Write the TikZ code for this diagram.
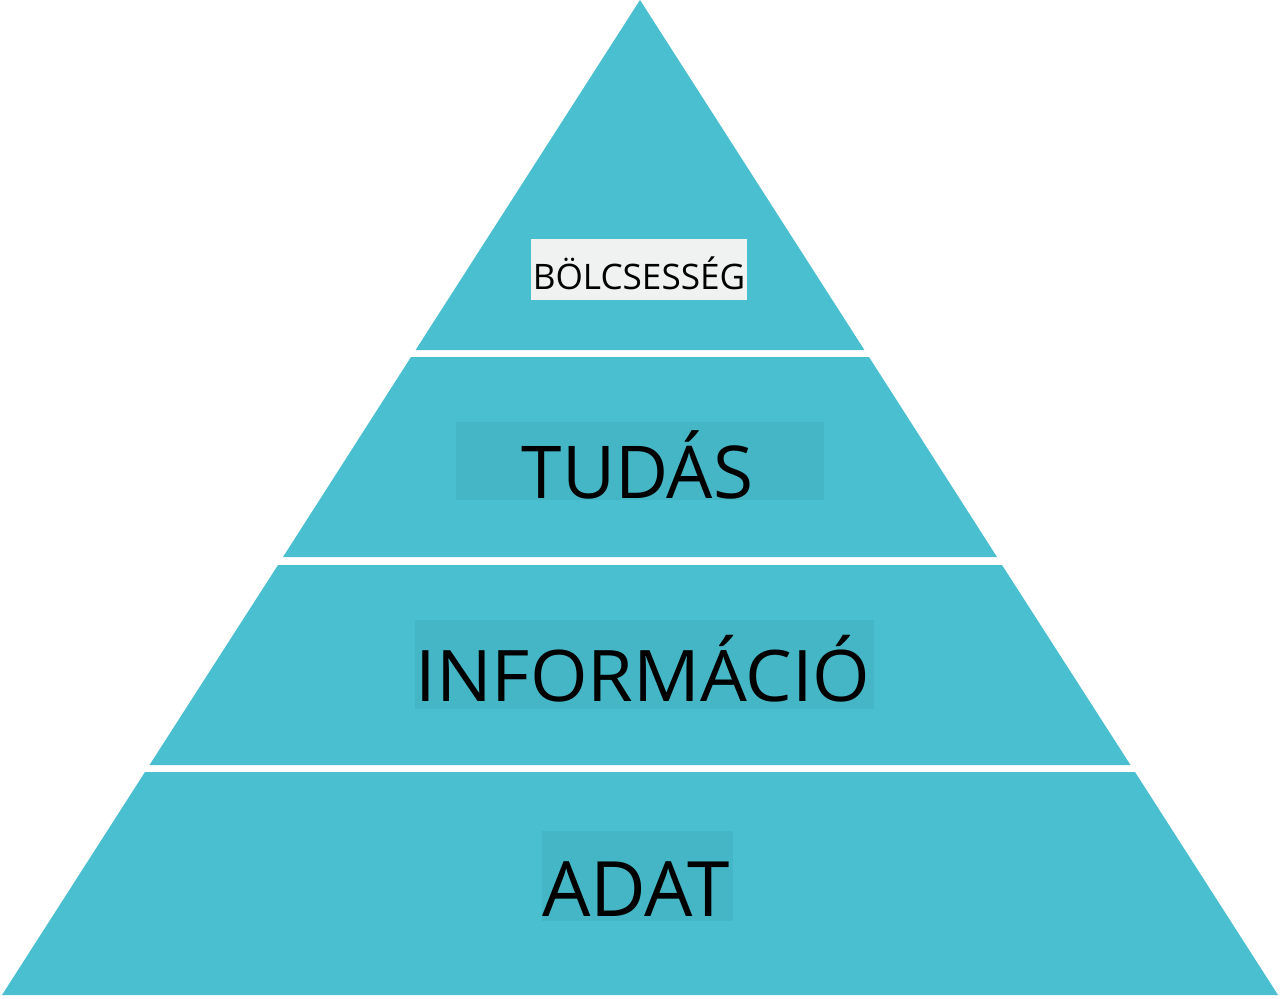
\documentclass[tikz,border=0pt]{standalone}
\usepackage{fontspec}
\setmainfont{Open Sans}
\usepackage{tikz}
\definecolor{pyrteal}{RGB}{74,191,207}
\definecolor{boxteal}{RGB}{69,182,198}
\definecolor{boxgray}{RGB}{240,241,241}

\begin{document}
\begin{tikzpicture}[
    x=0.02cm, y=-0.02cm,
    layer/.style={fill=pyrteal, draw=none},
    label box/.style={fill=boxteal, draw=none},
    top box/.style={fill=boxgray, draw=none},
    label text/.style={anchor=base, inner sep=0pt, text=black}
]
\useasboundingbox (0,0) rectangle (1280,998);

% Pyramid layers
\fill[layer] (640,0) -- (864.4,350) -- (415.6,350) -- cycle;
\fill[layer] (411,357) -- (869,357) -- (997,557) -- (283,557) -- cycle;
\fill[layer] (278,565) -- (1002,565) -- (1130.5,765) -- (149.5,765) -- cycle;
\fill[layer] (145,772) -- (1135,772) -- (1278,995) -- (2,995) -- cycle;

% Label backgrounds
\fill[top box] (531,239) rectangle (747,300);
\fill[label box] (456,422) rectangle (824,500);
\fill[label box] (415,620) rectangle (874,709);
\fill[label box] (542,831) rectangle (733,921);

% Labels
\node[label text, font=\fontsize{20}{24}\selectfont] (wisdom) at (639,289) {BÖLCSESSÉG};
\node[label text, font=\fontsize{41.5}{46}\selectfont] (knowledge) at (637.5,498) {TUDÁS};
\node[label text, font=\fontsize{40.5}{46}\selectfont, xscale=1.04] (information) at (643,701) {INFORMÁCIÓ};
\node[label text, font=\fontsize{43.5}{48}\selectfont] (data) at (636,916) {ADAT};

\end{tikzpicture}
\end{document}
